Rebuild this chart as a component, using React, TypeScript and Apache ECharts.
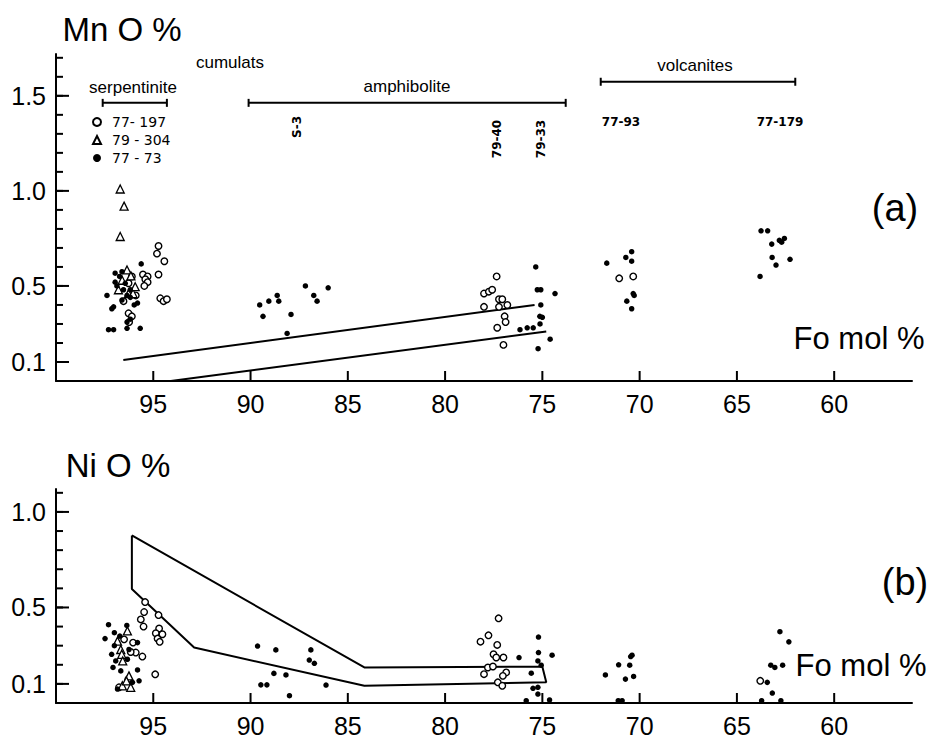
import React, { useEffect, useRef } from "react";
import * as echarts from "echarts";

// ---------- data ----------
const xTickValues = [95, 90, 85, 80, 75, 70, 65, 60];
const yLabelsA = [0.1, 0.5, 1.0, 1.5];
const yLabelsB = [0.1, 0.5, 1.0];
const yMinorTicksA = [0.1, 0.2, 0.3, 0.4, 0.5, 0.6, 0.7, 0.8, 0.9, 1.0, 1.1, 1.2, 1.3, 1.4, 1.5, 1.6, 1.7];
const yMinorTicksB = [0.1, 0.2, 0.3, 0.4, 0.5, 0.6, 0.7, 0.8, 0.9, 1.0, 1.1];

// Panel (a) MnO % vs Fo mol %
const mnOpen77_197 = [
  [94.73, 0.71], [94.81, 0.67], [94.43, 0.63], [94.73, 0.56], [95.53, 0.56], [95.29, 0.55],
  [95.41, 0.535], [95.29, 0.52], [95.46, 0.5], [94.64, 0.435], [94.47, 0.42], [94.3, 0.43],
  [96.27, 0.514], [96.1, 0.55], [96.53, 0.42], [96.27, 0.356], [96.1, 0.34], [96.24, 0.31], [95.9, 0.45],
];
const mnOpen79_40 = [
  [77.35, 0.55], [78.0, 0.46], [77.75, 0.47], [77.58, 0.48], [77.23, 0.43], [77.06, 0.43], [78.0, 0.39],
  [77.23, 0.39], [76.8, 0.4], [76.94, 0.34], [76.89, 0.31], [77.32, 0.28], [77.0, 0.19],
];
const mnOpen77_93 = [[71.05, 0.54], [70.33, 0.55]];
const mnTri79_304 = [
  [96.7, 1.01], [96.5, 0.92], [96.7, 0.76], [96.35, 0.584], [96.79, 0.48], [96.15, 0.553],
  [96.27, 0.46], [96.04, 0.46], [95.93, 0.496], [96.6, 0.53],
];
const mnDot77_73 = [
  [95.62, 0.616], [96.96, 0.567], [96.61, 0.575], [96.73, 0.55], [96.96, 0.52], [96.87, 0.5],
  [97.38, 0.45], [97.04, 0.39], [97.13, 0.38], [96.61, 0.426], [96.18, 0.48], [95.81, 0.41],
  [95.98, 0.4], [97.3, 0.27], [97.04, 0.27], [96.35, 0.277], [96.35, 0.31], [95.67, 0.277],
  [96.18, 0.325], [96.44, 0.514], [96.53, 0.48], [96.35, 0.45], [96.18, 0.44],
];
const mnDotS3 = [
  [89.53, 0.4], [89.06, 0.42], [88.63, 0.45], [88.55, 0.42], [89.36, 0.34], [87.92, 0.35],
  [88.12, 0.25], [87.18, 0.5], [86.75, 0.45], [86.58, 0.42], [86.01, 0.49],
];
const mnDot79_33 = [
  [75.34, 0.6], [75.26, 0.48], [75.08, 0.48], [74.35, 0.46], [75.08, 0.4], [75.13, 0.34], [75.0, 0.335],
  [75.12, 0.3], [76.15, 0.27], [75.78, 0.28], [75.47, 0.28], [74.6, 0.22], [75.22, 0.17],
];
const mnDot77_93 = [
  [71.69, 0.62], [70.71, 0.65], [70.41, 0.68], [70.41, 0.63], [70.33, 0.46], [70.28, 0.45],
  [70.66, 0.42], [70.41, 0.38],
];
const mnDot77_179 = [
  [63.76, 0.79], [63.42, 0.79], [63.21, 0.72], [62.82, 0.74], [62.56, 0.75], [62.7, 0.73],
  [63.19, 0.65], [62.99, 0.61], [62.27, 0.64], [63.81, 0.55],
];
const mnUpperLine = [[96.54, 0.11], [75.4, 0.4]];
const mnLowerLine = [[94.1, 0.0], [74.8, 0.26]];

// Range bars (Fo range, height on MnO axis)
const serpentiniteRange = [[97.6, 1.463], [94.3, 1.463]];
const amphiboliteRange = [[90.1, 1.463], [73.8, 1.463]];
const volcanitesRange = [[72.0, 1.574], [62.0, 1.574]];

// Panel (b) NiO % vs Fo mol %
const niOpen77_197 = [
  [95.42, 0.528], [95.47, 0.476], [95.64, 0.4375], [95.5, 0.4], [94.73, 0.46], [94.7, 0.39],
  [94.87, 0.365], [94.53, 0.36], [94.78, 0.337], [94.67, 0.32], [94.9, 0.15], [95.56, 0.243],
  [95.9, 0.264], [96.76, 0.082], [96.28, 0.125], [96.16, 0.267], [96.04, 0.316], [96.5, 0.333],
];
const niOpen79_40 = [
  [77.25, 0.443], [77.77, 0.354], [78.18, 0.321], [77.32, 0.304], [77.51, 0.255], [77.37, 0.238],
  [77.0, 0.238], [77.8, 0.186], [77.54, 0.191], [78.0, 0.151], [76.86, 0.16], [77.03, 0.142],
  [77.29, 0.108], [77.06, 0.09],
];
const niOpen77_179 = [[63.8, 0.116]];
const niTri79_304 = [
  [96.33, 0.377], [96.84, 0.324], [96.67, 0.28], [96.62, 0.255], [96.57, 0.22], [96.25, 0.142],
  [96.16, 0.082], [96.59, 0.09], [96.38, 0.116],
];
const niDot77_73 = [
  [97.3, 0.41], [97.48, 0.337], [96.36, 0.406], [96.72, 0.35], [97.0, 0.368], [95.81, 0.316],
  [97.0, 0.3], [97.14, 0.255], [96.25, 0.28], [97.07, 0.186], [96.67, 0.168], [95.81, 0.173],
  [96.07, 0.108], [95.73, 0.116], [96.84, 0.073], [96.33, 0.229], [96.93, 0.22],
];
const niDotS3 = [
  [89.64, 0.298], [88.7, 0.278], [86.9, 0.278], [86.98, 0.225], [86.72, 0.208], [88.8, 0.155],
  [88.18, 0.147], [89.47, 0.095], [89.16, 0.095], [88.0, 0.038], [86.12, 0.094],
];
const niDot79_33 = [
  [76.2, 0.238], [75.2, 0.345], [75.2, 0.264], [74.5, 0.25], [75.23, 0.22], [75.06, 0.198],
  [75.57, 0.156], [75.48, 0.077], [75.23, 0.082], [75.23, 0.047], [75.83, 0.012], [74.63, 0.016],
];
const niDot77_93 = [
  [71.76, 0.147], [71.08, 0.2], [70.51, 0.198], [70.46, 0.243], [70.39, 0.25], [70.73, 0.125],
  [70.31, 0.139], [71.1, 0.012], [70.9, 0.012],
];
const niDot77_179 = [
  [62.79, 0.373], [62.33, 0.32], [63.26, 0.198], [63.05, 0.186], [62.65, 0.198], [63.44, 0.108],
  [63.18, 0.052], [63.73, 0.012], [62.74, 0.012],
];
const niEnvelope = [
  [96.1, 0.877], [84.15, 0.186], [75.0, 0.19], [74.8, 0.108], [84.15, 0.09], [92.9, 0.29],
  [96.1, 0.597], [96.1, 0.877],
];

const NAME_OPEN = "77- 197";
const NAME_TRI = "79 - 304";
const NAME_DOT = "77 - 73";

export default function App() {
  const ref = useRef<HTMLDivElement>(null);

  useEffect(() => {
    if (!ref.current) return;
    const chart = echarts.init(ref.current, null, { renderer: "svg" });
    const black = "#000";
    const font = "Liberation Sans, Arial, sans-serif";
    const smallFont = "DejaVu Sans, sans-serif";
    const FO_MIN = 56, FO_MAX = 100;

    const xMain = (gridIndex: number) => ({
      type: "value", gridIndex, min: FO_MIN, max: FO_MAX, inverse: true,
      splitLine: { show: false },
      axisLine: { show: true, onZero: false, lineStyle: { color: black, width: 2 } },
      axisTick: { show: false },
      axisLabel: { show: true, customValues: xTickValues, color: black, fontSize: 25, fontFamily: font, margin: 10 },
    });
    const yMain = (gridIndex: number, max: number, labels: number[]) => ({
      type: "value", gridIndex, min: 0, max,
      splitLine: { show: false },
      axisLine: { show: true, onZero: false, lineStyle: { color: black, width: 2 } },
      axisTick: { show: false },
      axisLabel: {
        show: true, customValues: labels, color: black, fontSize: 25, fontFamily: font, margin: 10,
        formatter: (v: number) => String(Number(v).toFixed(1)),
      },
    });

    const openStyle = { color: "#fff", borderColor: black, borderWidth: 1.4, opacity: 1 };
    const triStyle = { color: "#fff", borderColor: black, borderWidth: 1.3, opacity: 1 };
    const dotStyle = { color: black, opacity: 1 };

    const scatter = (name: string, data: number[][], kind: string, xi: number, yi: number) => ({
      name, type: "scatter", xAxisIndex: xi, yAxisIndex: yi, data,
      symbol: kind === "tri" ? "triangle" : "circle",
      symbolSize: kind === "tri" ? 8 : kind === "open" ? 6.5 : 5.5,
      itemStyle: kind === "tri" ? triStyle : kind === "open" ? openStyle : dotStyle,
      z: 5,
    });
    const line = (data: number[][], xi: number, yi: number) => ({
      type: "line", xAxisIndex: xi, yAxisIndex: yi, data, symbol: "none",
      lineStyle: { color: black, width: 2 }, z: 3,
    });
    const rangeBar = (data: number[][]) => ({
      type: "line", xAxisIndex: 0, yAxisIndex: 0, data,
      symbol: "rect", symbolSize: [2, 8], showSymbol: true,
      itemStyle: { color: black }, lineStyle: { color: black, width: 2 }, z: 3,
    });

    const txt = (text: string, x: number, y: number, size: number, opts: any = {}) => ({
      type: "text", x, y, rotation: opts.rotation || 0,
      style: {
        text, fill: black, fontSize: size,
        fontFamily: opts.family || font, fontWeight: opts.weight || "normal",
        textAlign: "center", textVerticalAlign: "middle",
      },
      z: 10,
    });

    const option: any = {
      animation: false,
      grid: [
        { left: 56, right: 24, top: 54, height: 327 },
        { left: 56, right: 24, top: 489, height: 215 },
      ],
      xAxis: [xMain(0), xMain(1)],
      yAxis: [yMain(0, 1.72, yLabelsA), yMain(1, 1.12, yLabelsB)],
      legend: {
        orient: "vertical", left: 87, top: 110,
        itemWidth: 8, itemHeight: 8, itemGap: 4,
        selectedMode: false,
        data: [NAME_OPEN, NAME_TRI, NAME_DOT],
        textStyle: { color: black, fontSize: 14, fontFamily: smallFont, padding: [0, 0, 0, 6] },
      },
      series: [
        scatter(NAME_OPEN, mnOpen77_197, "open", 0, 0),
        scatter(NAME_OPEN, mnOpen79_40, "open", 0, 0),
        scatter(NAME_OPEN, mnOpen77_93, "open", 0, 0),
        scatter(NAME_TRI, mnTri79_304, "tri", 0, 0),
        scatter(NAME_DOT, mnDot77_73, "dot", 0, 0),
        scatter(NAME_DOT, mnDotS3, "dot", 0, 0),
        scatter(NAME_DOT, mnDot79_33, "dot", 0, 0),
        scatter(NAME_DOT, mnDot77_93, "dot", 0, 0),
        scatter(NAME_DOT, mnDot77_179, "dot", 0, 0),
        line(mnUpperLine, 0, 0),
        line(mnLowerLine, 0, 0),
        rangeBar(serpentiniteRange),
        rangeBar(amphiboliteRange),
        rangeBar(volcanitesRange),
        scatter(NAME_OPEN, niOpen77_197, "open", 1, 1),
        scatter(NAME_OPEN, niOpen79_40, "open", 1, 1),
        scatter(NAME_OPEN, niOpen77_179, "open", 1, 1),
        scatter(NAME_TRI, niTri79_304, "tri", 1, 1),
        scatter(NAME_DOT, niDot77_73, "dot", 1, 1),
        scatter(NAME_DOT, niDotS3, "dot", 1, 1),
        scatter(NAME_DOT, niDot79_33, "dot", 1, 1),
        scatter(NAME_DOT, niDot77_93, "dot", 1, 1),
        scatter(NAME_DOT, niDot77_179, "dot", 1, 1),
        line(niEnvelope, 1, 1),
      ],
    };

    chart.setOption(option);

    const texts: any[] = [
      txt("Mn O %", 122, 29, 33),
      txt("Ni O %", 118, 465, 33),
      txt("(a)", 895, 208, 38),
      txt("(b)", 905, 582, 38),
      txt("Fo mol %", 859, 338, 31),
      txt("Fo mol %", 861, 665, 31),
      txt("cumulats", 230, 62, 17),
      txt("serpentinite", 133, 87, 17),
      txt("amphibolite", 407, 86, 17),
      txt("volcanites", 695, 65, 17),
      txt("77-93", 621, 122, 12, { family: smallFont, weight: "bold" }),
      txt("77-179", 780, 122, 12, { family: smallFont, weight: "bold" }),
      txt("S-3", 297, 127, 12, { family: smallFont, weight: "bold", rotation: Math.PI / 2 }),
      txt("79-40", 497, 139, 12, { family: smallFont, weight: "bold", rotation: Math.PI / 2 }),
      txt("79-33", 541, 139, 12, { family: smallFont, weight: "bold", rotation: Math.PI / 2 }),
    ];

    // inward tick marks positioned through the axes' own scales
    const ticks: any[] = [];
    const seg = (x1: number, y1: number, x2: number, y2: number) => ({
      type: "line", silent: true, z: 9,
      shape: { x1, y1, x2, y2 },
      style: { stroke: black, lineWidth: 2 },
    });
    const addTicks = (idx: number, majors: number[], minors: number[]) => {
      const finder = { xAxisIndex: idx, yAxisIndex: idx };
      xTickValues.forEach((v) => {
        const p = chart.convertToPixel(finder as any, [v, 0]) as number[];
        if (p && isFinite(p[0]) && isFinite(p[1])) ticks.push(seg(p[0], p[1], p[0], p[1] - 10));
      });
      majors.forEach((v) => {
        const p = chart.convertToPixel(finder as any, [FO_MAX, v]) as number[];
        if (p && isFinite(p[0]) && isFinite(p[1])) ticks.push(seg(p[0], p[1], p[0] + 13, p[1]));
      });
      minors.forEach((v) => {
        const p = chart.convertToPixel(finder as any, [FO_MAX, v]) as number[];
        if (p && isFinite(p[0]) && isFinite(p[1])) ticks.push(seg(p[0], p[1], p[0] + 7, p[1]));
      });
    };
    try {
      addTicks(0, yLabelsA, yMinorTicksA);
      addTicks(1, yLabelsB, yMinorTicksB);
    } catch (e) {
      // keep chart even if tick placement fails
    }

    chart.setOption({ graphic: [...texts, ...ticks] });
    return () => chart.dispose();
  }, []);

  return (
    <div
      ref={ref}
      style={{ position: "fixed", left: 0, top: 0, width: 936, height: 738, background: "#fff" }}
    />
  );
}
